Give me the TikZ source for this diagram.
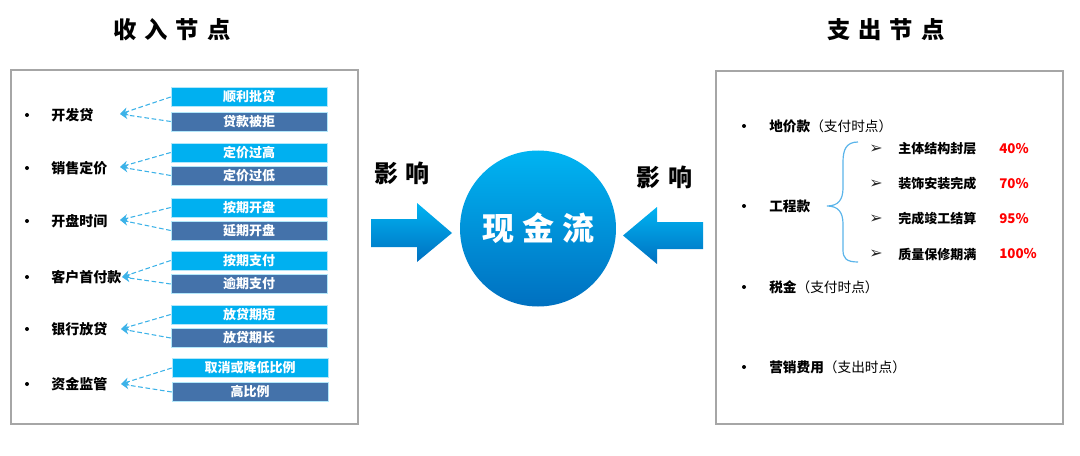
\documentclass[tikz,border=0pt]{standalone}
\usepackage{fontspec}
\setmainfont{Noto Sans CJK SC}
\newfontfamily\dejavu{DejaVu Sans}
\usetikzlibrary{arrows.meta}
\definecolor{cLight}{RGB}{0,176,240}
\definecolor{cDark}{RGB}{68,114,170}
\definecolor{cDash}{RGB}{60,178,232}
\definecolor{cFrame}{RGB}{166,166,166}
\definecolor{cTop}{RGB}{0,180,242}
\definecolor{cBot}{RGB}{0,112,192}
\definecolor{cBrace}{RGB}{90,180,234}
\begin{document}
\begin{tikzpicture}[x=0.75pt,y=-0.75pt,
  frame/.style={draw=cFrame,line width=1.1pt},
  titlestyle/.style={font=\bfseries\fontsize{17.5}{20}\selectfont,inner sep=0},
  lbl/.style={anchor=west,font=\bfseries\fontsize{10.5}{12}\selectfont,inner sep=0},
  rlbl/.style={anchor=west,font=\fontsize{10.25}{12}\selectfont,inner sep=0},
  sublbl/.style={anchor=west,font=\bfseries\fontsize{9.75}{12}\selectfont,inner sep=0},
  pct/.style={anchor=west,font=\bfseries\fontsize{10}{12}\selectfont,text=red,inner sep=0},
  bul/.style={circle,fill=black,inner sep=0,minimum size=3pt},
  arrmark/.style={font=\dejavu\fontsize{12}{12}\selectfont,inner sep=0,text=black!85},
  boxbase/.style={minimum width=117pt,minimum height=14.25pt,inner sep=0,text=white,font=\bfseries\fontsize{9.75}{11}\selectfont,draw=white!70!cLight,line width=0.4pt},
  boxa/.style={boxbase,fill=cLight},
  boxb/.style={boxbase,fill=cDark},
  dashlink/.style={draw=cDash,dash pattern=on 3.5pt off 2pt,line width=0.8pt,-{Stealth[length=6pt,width=6pt]}},
  infl/.style={font=\bfseries\fontsize{18}{20}\selectfont,inner sep=0},
  bigarrow/.style={top color=cTop,bottom color=cBot}
]
\useasboundingbox (0,0) rectangle (1080,456);

% titles
\node[titlestyle] (t1) at (172,30) {收\hspace{6pt}入\hspace{6pt}节\hspace{6pt}点};
\node[titlestyle] (t2) at (886,30) {支\hspace{6pt}出\hspace{6pt}节\hspace{6pt}点};

% frames
\draw[frame] (11,70) rectangle (358,424);
\draw[frame] (716,71) rectangle (1063,424);

% left labels and bullets
\foreach \y/\t/\n in {115/开发贷/l1,168/销售定价/l2,221/开盘时间/l3,277/客户首付款/l4,329/银行放贷/l5,384/资金监管/l6}{
  \node[bul] (b\n) at (27,\y) {};
  \node[lbl] (\n) at (51,\y) {\t};
}

% arrow target coordinates
\coordinate (c1) at (120,114);
\coordinate (c2) at (120,167);
\coordinate (c3) at (120,220);
\coordinate (c4) at (122,277);
\coordinate (c5) at (121,329);
\coordinate (c6) at (121,384);

% option boxes
\node[boxa] (a1) at (249,97) {顺利批贷};
\node[boxb] (d1) at (249,121.5) {贷款被拒};
\node[boxa] (a2) at (249,152.5) {定价过高};
\node[boxb] (d2) at (249,175.5) {定价过低};
\node[boxa] (a3) at (249,207.5) {按期开盘};
\node[boxb] (d3) at (249,230.5) {延期开盘};
\node[boxa] (a4) at (249,260.5) {按期支付};
\node[boxb] (d4) at (249,284) {逾期支付};
\node[boxa] (a5) at (249,314.5) {放贷期短};
\node[boxb] (d5) at (249,338) {放贷期长};
\node[boxa] (a6) at (250,368) {取消或降低比例};
\node[boxb] (d6) at (250,392) {高比例};

\foreach \i in {1,...,6}{
  \draw[dashlink] (a\i.west) -- (c\i);
  \draw[dashlink] (d\i.west) -- (c\i);
}

% center
\shade[bigarrow] (371,219) -- (417,219) -- (417,203) -- (452,233) -- (417,262) -- (417,247) -- (371,247) -- cycle;
\shade[bigarrow] (703,222) -- (657,222) -- (657,207) -- (623,235.5) -- (657,264) -- (657,249) -- (703,249) -- cycle;
\node[circle,minimum size=117pt,inner sep=0,top color=cTop,bottom color=cBot,text=white,font=\bfseries\fontsize{24}{26}\selectfont] (cf) at (538,228.5) {现\hspace{6pt}金\hspace{6pt}流};
\node[infl] (i1) at (402,173) {影\hspace{6pt}响};
\node[infl] (i2) at (664,177) {影\hspace{6pt}响};

% right side
\node[bul] (r1b) at (744,126) {};
\node[rlbl] (r1) at (769,126) {\textbf{地价款}（支付时点）};
\node[bul] (r2b) at (744,206) {};
\node[rlbl] (r2) at (769,206) {\textbf{工程款}};
\node[bul] (r3b) at (744,287) {};
\node[rlbl] (r3) at (769,287) {\textbf{税金}（支付时点）};
\node[bul] (r4b) at (744,367) {};
\node[rlbl] (r4) at (769,367) {\textbf{营销费用}（支出时点）};

% brace
\draw[cBrace,line width=0.9pt] (858,142) .. controls (846,142) and (843,150) .. (843,162)
  -- (843,188) .. controls (843,200) and (838,206) .. (827,206)
  .. controls (838,206) and (843,212) .. (843,224)
  -- (843,250) .. controls (843,258) and (846,262) .. (858,262);

\foreach \y/\t/\p/\n in {149/主体结构封层/40\%/s1,184/装饰安装完成/70\%/s2,219/完成竣工结算/95\%/s3,254/质量保修期满/100\%/s4}{
  \node[arrmark] (m\n) at (876,\y) {➢};
  \node[sublbl] (\n) at (898,\y) {\t};
  \node[pct] (p\n) at (999,\y) {\p};
}
\end{tikzpicture}
\end{document}
